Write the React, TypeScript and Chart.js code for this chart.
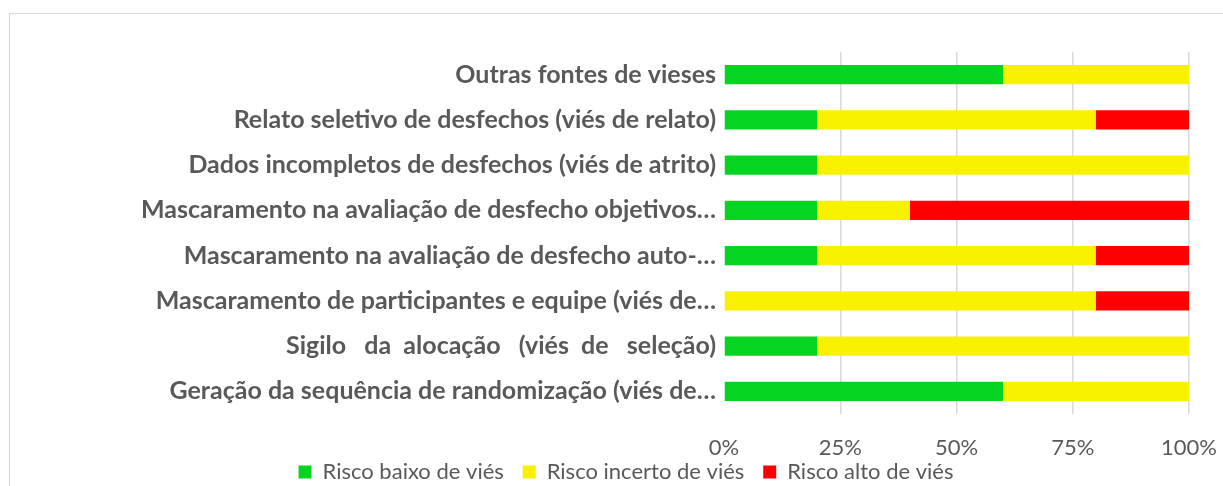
import React, { useEffect, useRef } from "react";
import { Chart, registerables } from "chart.js";

Chart.register(...registerables);

const categories = [
  "Outras fontes de vieses",
  "Relato seletivo de desfechos (viés de relato)",
  "Dados incompletos de desfechos (viés de atrito)",
  "Mascaramento na avaliação de desfecho objetivos…",
  "Mascaramento na avaliação de desfecho auto-…",
  "Mascaramento de participantes e equipe (viés de…",
  "Sigilo   da  alocação   (viés  de   seleção)",
  "Geração da sequência de randomização (viés de…",
];
const riscoBaixo = [60, 20, 20, 20, 20, 0, 20, 60];
const riscoIncerto = [40, 60, 80, 20, 60, 80, 80, 40];
const riscoAlto = [0, 20, 0, 60, 20, 20, 0, 0];
const seriesNames = ["Risco baixo de viés", "Risco incerto de viés", "Risco alto de viés"];
const seriesColors = ["#05D421", "#F8F200", "#FF0000"];
const xTicks = [0, 25, 50, 75, 100];

export default function App() {
  const ref = useRef<HTMLCanvasElement | null>(null);
  useEffect(() => {
    document.body.style.margin = "0";
    if (!ref.current) return;
    const font = "Lato, 'Open Sans', sans-serif";
    const chart = new Chart(ref.current, {
      type: "bar",
      data: {
        labels: categories,
        datasets: [
          { label: seriesNames[0], data: riscoBaixo, backgroundColor: seriesColors[0] },
          { label: seriesNames[1], data: riscoIncerto, backgroundColor: seriesColors[1] },
          { label: seriesNames[2], data: riscoAlto, backgroundColor: seriesColors[2] },
        ],
      },
      options: {
        indexAxis: "y",
        animation: false,
        responsive: false,
        layout: { padding: { top: 52, right: 34, left: 63, bottom: 0 } },
        datasets: { bar: { barPercentage: 0.6, categoryPercentage: 0.7 } } as any,
        scales: {
          x: {
            stacked: true,
            min: 0,
            max: 100,
            afterBuildTicks: (s: any) => {
              s.ticks = xTicks.map((v) => ({ value: v }));
            },
            afterFit: (s: any) => {
              s.height = 45;
              s.paddingRight = 0;
              s.paddingLeft = 0;
            },
            ticks: {
              callback: (v: any) => v + "%",
              color: "#595959",
              font: { family: font, size: 22, lineHeight: 1 },
              padding: 23,
              maxRotation: 0,
              autoSkip: false,
            },
            grid: {
              drawTicks: false,
              color: (c: any) => (c.tick && c.tick.value === 0 ? "rgba(0,0,0,0)" : "#D9D9D9"),
              lineWidth: 1.5,
            },
            border: { display: false },
          },
          y: {
            stacked: true,
            afterFit: (s: any) => {
              s.width = 661;
            },
            ticks: {
              color: "#595959",
              font: { family: font, size: 25, weight: "bold" },
              padding: 8,
              autoSkip: false,
            },
            grid: { display: false, drawTicks: false },
            border: { display: false },
          },
        },
        plugins: {
          legend: {
            position: "bottom",
            labels: {
              boxWidth: 13,
              boxHeight: 13,
              color: "#595959",
              font: { family: font, size: 22 },
              padding: 2,
              generateLabels: (c: any) => {
                const items = Chart.defaults.plugins.legend.labels.generateLabels(c);
                return items.map((it: any, i: number) => ({
                  ...it,
                  text: i < items.length - 1 ? it.text + "   " : it.text,
                }));
              },
            },
          },
          tooltip: { enabled: false },
        },
      },
    });
    return () => chart.destroy();
  }, []);
  return (
    <div
      style={{
        position: "absolute",
        left: 0,
        top: 0,
        width: 1223,
        height: 486,
        overflow: "hidden",
        background: "#fff",
      }}
    >
      <div
        style={{
          position: "absolute",
          left: 9,
          top: 13,
          width: 1230,
          height: 490,
          borderLeft: "1.5px solid #D9D9D9",
          borderTop: "1.5px solid #D9D9D9",
        }}
      />
      <canvas ref={ref} width={1223} height={493} style={{ position: "absolute", left: 0, top: 0 }} />
    </div>
  );
}
